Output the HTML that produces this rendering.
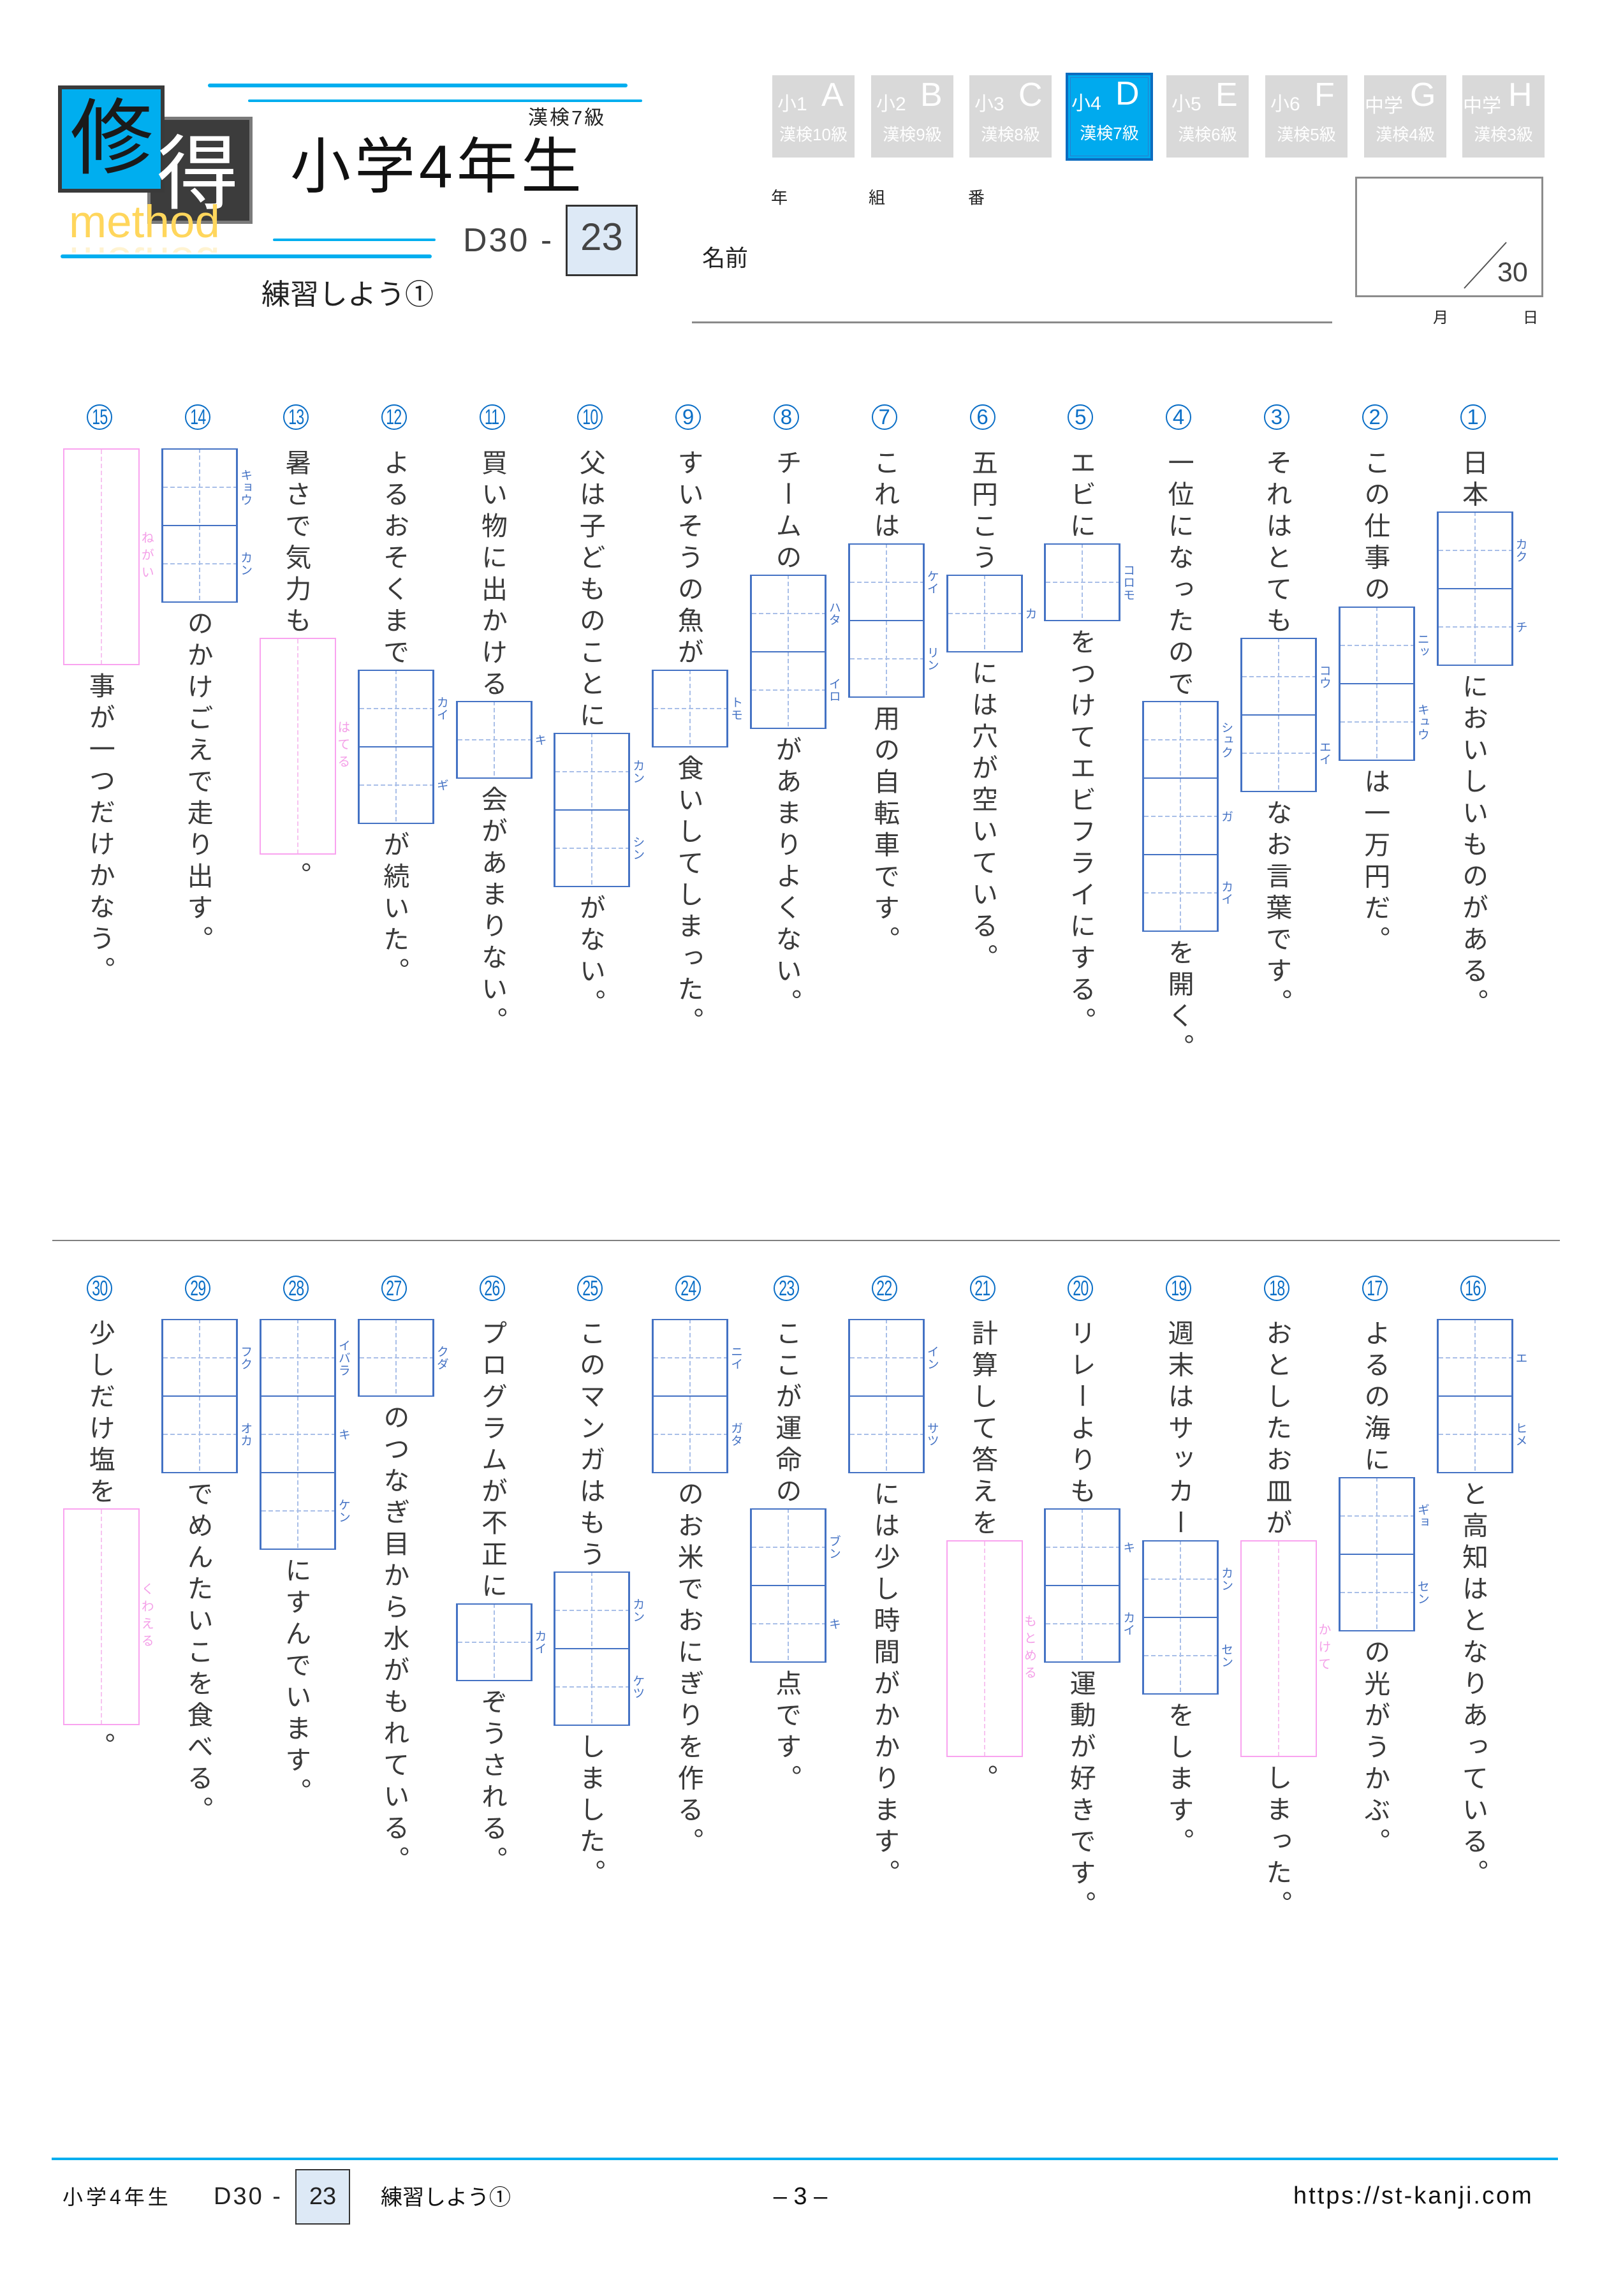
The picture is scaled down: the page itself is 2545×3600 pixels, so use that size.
<!DOCTYPE html>
<html lang="ja">
<head>
<meta charset="utf-8">
<style>
*{margin:0;padding:0;box-sizing:border-box}
html,body{width:2545px;height:3600px;background:#fff;overflow:hidden}
body{position:relative;font-family:"Liberation Sans","Noto Sans CJK JP",sans-serif;color:#222}
.a{position:absolute;line-height:1;white-space:nowrap}
.bl{position:absolute;background:#00aeef;border-radius:3px}
/* tabs */
.tab{position:absolute;top:118px;width:129px;height:129px;background:#d9d9d9;color:#fff}
.tab .s{position:absolute;left:8px;top:31px;font-size:30px;line-height:1;white-space:nowrap}
.tab .b{position:absolute;left:77px;top:5px;font-size:52px;line-height:1}
.tab .k{position:absolute;left:0;width:100%;text-align:center;top:80px;font-size:26px;line-height:1;letter-spacing:0px;white-space:nowrap}
.tab.on{left:1671px;top:114px;width:137px;height:138px;background:#00aaee;border:4px solid #0b6cc0;box-shadow:inset 0 0 0 3px #00aaee,inset 0 0 0 4px #2a7fcc}
/* columns */
.col{position:absolute;width:160px;display:flex;flex-direction:column;align-items:center}
.t{writing-mode:vertical-rl;font-size:41px;letter-spacing:8.5px;line-height:50px;position:relative;top:3px;color:#3a3a3a;white-space:nowrap;font-family:"Liberation Sans","Noto Sans CJK JP",sans-serif}
.bx{position:relative;left:3px;width:120px;border-left:3px solid #4472c4;border-right:3px solid #4472c4;border-bottom:2px solid #4472c4;margin:2px 0 8px;flex:none}
.bx::before{content:"";position:absolute;left:calc(50% - 1px);top:0;bottom:0;width:2px;background:repeating-linear-gradient(to bottom,#a9bfe8 0 7px,transparent 7px 11px)}
.sq{position:relative;height:120px;border-top:2px solid #4472c4}
.sq::after{content:"";position:absolute;left:0;right:0;top:calc(50% - 1px);height:2px;background:repeating-linear-gradient(to right,#a9bfe8 0 7px,transparent 7px 11px)}
.sq i,.pk i{position:absolute;top:50%;transform:translateY(-50%);writing-mode:vertical-rl;font-style:normal;white-space:nowrap}
.sq i{left:calc(100% + 4px);font-size:19px;line-height:20px;letter-spacing:0.5px;color:#4472c4}
.pk{position:relative;left:3px;width:120px;height:340px;border:2px solid #f9a3ef;margin:2px 0 8px;flex:none}
.pk::before{content:"";position:absolute;left:calc(50% - 1px);top:0;bottom:0;width:2px;background:repeating-linear-gradient(to bottom,#f7c3f0 0 7px,transparent 7px 11px)}
.pk i{left:calc(100% + 2px);font-size:20px;line-height:20px;letter-spacing:7px;color:#f4a0e8}
.cn{position:absolute;width:40px;height:40px;border:2px solid #0b6fc7;border-radius:50%;color:#0b6fc7;text-align:center;font-size:33px;line-height:36px;font-family:"Liberation Sans",sans-serif}
.cn span{display:inline-block}
.cn .d{transform:scaleX(0.7);letter-spacing:-1px}
</style>
</head>
<body>

<!-- ===== HEADER LEFT ===== -->
<div class="bl" style="left:326px;top:131px;width:658px;height:6px"></div>
<div class="bl" style="left:389px;top:156px;width:618px;height:4px"></div>
<div class="bl" style="left:428px;top:374px;width:255px;height:4px"></div>
<div class="bl" style="left:95px;top:399px;width:582px;height:6px"></div>

<!-- logo -->
<div style="position:absolute;left:231px;top:183px;width:165px;height:168px;background:#3c3c3c;border:5px solid #7a7a7a"></div>
<div style="position:absolute;left:91px;top:134px;width:167px;height:168px;background:#00aeef;border:6px solid #3a3a3a"></div>
<div class="a" style="left:100px;top:141px;width:150px;text-align:center;font-size:130px;color:#1a1a1a;font-family:'Noto Sans CJK JP',sans-serif">修</div>
<div class="a" style="left:235px;top:198px;width:150px;text-align:center;font-size:128px;color:#fff;font-family:'Noto Sans CJK JP',sans-serif">得</div>
<div class="a" style="left:108px;top:313px;font-size:71px;color:#ffd65c">method</div>
<div style="position:absolute;left:108px;top:374px;width:260px;height:22px;overflow:hidden;opacity:0.28">
  <div class="a" style="left:0;top:-47px;font-size:71px;color:#ffd65c;transform:scaleY(-1);transform-origin:50% 60px">method</div>
</div>

<div class="a" style="left:828px;top:169px;font-size:31px;letter-spacing:3px;color:#222">漢検7級</div>
<div class="a" style="left:455px;top:215px;font-size:95px;letter-spacing:6px;color:#111">小学4年生</div>
<div class="a" style="left:726px;top:351px;font-size:52px;letter-spacing:3px;color:#444">D30 -</div>
<div style="position:absolute;left:887px;top:321px;width:113px;height:112px;background:#dde9f6;border:3px solid #333"></div>
<div class="a" style="left:887px;top:342px;width:113px;text-align:center;font-size:60px;color:#444">23</div>
<div class="a" style="left:410px;top:439px;font-size:45px;color:#222">練習しよう①</div>

<!-- ===== HEADER RIGHT: tabs ===== -->
<div class="tab" style="left:1211px"><span class="s">小1</span><span class="b">A</span><span class="k">漢検10級</span></div>
<div class="tab" style="left:1366px"><span class="s">小2</span><span class="b">B</span><span class="k">漢検9級</span></div>
<div class="tab" style="left:1520px"><span class="s">小3</span><span class="b">C</span><span class="k">漢検8級</span></div>
<div class="tab on"><span class="s" style="left:5px;top:30px">小4</span><span class="b" style="left:74px;top:3px">D</span><span class="k" style="top:78px">漢検7級</span></div>
<div class="tab" style="left:1829px"><span class="s">小5</span><span class="b">E</span><span class="k">漢検6級</span></div>
<div class="tab" style="left:1984px"><span class="s">小6</span><span class="b">F</span><span class="k">漢検5級</span></div>
<div class="tab" style="left:2139px"><span class="s" style="left:1px;top:34px;font-size:30px">中学</span><span class="b" style="left:72px">G</span><span class="k">漢検4級</span></div>
<div class="tab" style="left:2293px"><span class="s" style="left:1px;top:34px;font-size:30px">中学</span><span class="b" style="left:72px">H</span><span class="k">漢検3級</span></div>

<div class="a" style="left:1209px;top:297px;font-size:26px">年</div>
<div class="a" style="left:1362px;top:297px;font-size:26px">組</div>
<div class="a" style="left:1518px;top:297px;font-size:26px">番</div>
<div class="a" style="left:1101px;top:387px;font-size:36px">名前</div>
<div style="position:absolute;left:1085px;top:504px;width:1004px;height:3px;background:#8a8a8a"></div>

<div style="position:absolute;left:2125px;top:277px;width:295px;height:189px;border:3px solid #8c8c8c"></div>
<svg style="position:absolute;left:0;top:0" width="2545" height="600"><line x1="2362" y1="380" x2="2296" y2="452" stroke="#555" stroke-width="2"/></svg>
<div class="a" style="left:2348px;top:406px;font-size:43px;color:#444">30</div>
<div class="a" style="left:2247px;top:487px;font-size:24px">月</div>
<div class="a" style="left:2388px;top:487px;font-size:24px">日</div>

<!-- ===== TOP HALF ===== -->
<div class="cn" style="left:2289.5px;top:634px"><span>1</span></div>
<div class="cn" style="left:2135.7px;top:634px"><span>2</span></div>
<div class="cn" style="left:1981.9px;top:634px"><span>3</span></div>
<div class="cn" style="left:1828.1px;top:634px"><span>4</span></div>
<div class="cn" style="left:1674.3px;top:634px"><span>5</span></div>
<div class="cn" style="left:1520.5px;top:634px"><span>6</span></div>
<div class="cn" style="left:1366.7px;top:634px"><span>7</span></div>
<div class="cn" style="left:1212.9px;top:634px"><span>8</span></div>
<div class="cn" style="left:1059.1px;top:634px"><span>9</span></div>
<div class="cn" style="left:905.3px;top:634px"><span class="d">10</span></div>
<div class="cn" style="left:751.5px;top:634px"><span class="d">11</span></div>
<div class="cn" style="left:597.7px;top:634px"><span class="d">12</span></div>
<div class="cn" style="left:443.9px;top:634px"><span class="d">13</span></div>
<div class="cn" style="left:290.1px;top:634px"><span class="d">14</span></div>
<div class="cn" style="left:136.3px;top:634px"><span class="d">15</span></div>

<div class="col" style="left:2229.5px;top:701px">
  <div class="t">日本</div>
  <div class="bx"><div class="sq"><i>カク</i></div><div class="sq"><i>チ</i></div></div>
  <div class="t">においしいものがある。</div>
</div>
<div class="col" style="left:2075.7px;top:701px">
  <div class="t">この仕事の</div>
  <div class="bx"><div class="sq"><i>ニッ</i></div><div class="sq"><i>キュウ</i></div></div>
  <div class="t">は一万円だ。</div>
</div>
<div class="col" style="left:1921.9px;top:701px">
  <div class="t">それはとても</div>
  <div class="bx"><div class="sq"><i>コウ</i></div><div class="sq"><i>エイ</i></div></div>
  <div class="t">なお言葉です。</div>
</div>
<div class="col" style="left:1768.1px;top:701px">
  <div class="t">一位になったので</div>
  <div class="bx"><div class="sq"><i>シュク</i></div><div class="sq"><i>ガ</i></div><div class="sq"><i>カイ</i></div></div>
  <div class="t">を開く。</div>
</div>
<div class="col" style="left:1614.3px;top:701px">
  <div class="t">エビに</div>
  <div class="bx"><div class="sq"><i>コロモ</i></div></div>
  <div class="t">をつけてエビフライにする。</div>
</div>
<div class="col" style="left:1460.5px;top:701px">
  <div class="t">五円こう</div>
  <div class="bx"><div class="sq"><i>カ</i></div></div>
  <div class="t">には穴が空いている。</div>
</div>
<div class="col" style="left:1306.7px;top:701px">
  <div class="t">これは</div>
  <div class="bx"><div class="sq"><i>ケイ</i></div><div class="sq"><i>リン</i></div></div>
  <div class="t">用の自転車です。</div>
</div>
<div class="col" style="left:1152.9px;top:701px">
  <div class="t">チームの</div>
  <div class="bx"><div class="sq"><i>ハタ</i></div><div class="sq"><i>イロ</i></div></div>
  <div class="t">があまりよくない。</div>
</div>
<div class="col" style="left:999.1px;top:701px">
  <div class="t">すいそうの魚が</div>
  <div class="bx"><div class="sq"><i>トモ</i></div></div>
  <div class="t">食いしてしまった。</div>
</div>
<div class="col" style="left:845.3px;top:701px">
  <div class="t">父は子どものことに</div>
  <div class="bx"><div class="sq"><i>カン</i></div><div class="sq"><i>シン</i></div></div>
  <div class="t">がない。</div>
</div>
<div class="col" style="left:691.5px;top:701px">
  <div class="t">買い物に出かける</div>
  <div class="bx"><div class="sq"><i>キ</i></div></div>
  <div class="t">会があまりない。</div>
</div>
<div class="col" style="left:537.7px;top:701px">
  <div class="t">よるおそくまで</div>
  <div class="bx"><div class="sq"><i>カイ</i></div><div class="sq"><i>ギ</i></div></div>
  <div class="t">が続いた。</div>
</div>
<div class="col" style="left:383.9px;top:701px">
  <div class="t">暑さで気力も</div>
  <div class="pk"><i>はてる</i></div>
  <div class="t">。</div>
</div>
<div class="col" style="left:230.1px;top:701px">
  <div class="bx"><div class="sq"><i>キョウ</i></div><div class="sq"><i>カン</i></div></div>
  <div class="t">のかけごえで走り出す。</div>
</div>
<div class="col" style="left:76.3px;top:701px">
  <div class="pk"><i>ねがい</i></div>
  <div class="t">事が一つだけかなう。</div>
</div>

<!-- divider -->
<div style="position:absolute;left:82px;top:1944px;width:2364px;height:2px;background:#808080"></div>

<!-- ===== BOTTOM HALF ===== -->
<div class="cn" style="left:2289.5px;top:2000px"><span class="d">16</span></div>
<div class="cn" style="left:2135.7px;top:2000px"><span class="d">17</span></div>
<div class="cn" style="left:1981.9px;top:2000px"><span class="d">18</span></div>
<div class="cn" style="left:1828.1px;top:2000px"><span class="d">19</span></div>
<div class="cn" style="left:1674.3px;top:2000px"><span class="d">20</span></div>
<div class="cn" style="left:1520.5px;top:2000px"><span class="d">21</span></div>
<div class="cn" style="left:1366.7px;top:2000px"><span class="d">22</span></div>
<div class="cn" style="left:1212.9px;top:2000px"><span class="d">23</span></div>
<div class="cn" style="left:1059.1px;top:2000px"><span class="d">24</span></div>
<div class="cn" style="left:905.3px;top:2000px"><span class="d">25</span></div>
<div class="cn" style="left:751.5px;top:2000px"><span class="d">26</span></div>
<div class="cn" style="left:597.7px;top:2000px"><span class="d">27</span></div>
<div class="cn" style="left:443.9px;top:2000px"><span class="d">28</span></div>
<div class="cn" style="left:290.1px;top:2000px"><span class="d">29</span></div>
<div class="cn" style="left:136.3px;top:2000px"><span class="d">30</span></div>

<div class="col" style="left:2229.5px;top:2066px">
  <div class="bx"><div class="sq"><i>エ</i></div><div class="sq"><i>ヒメ</i></div></div>
  <div class="t">と高知はとなりあっている。</div>
</div>
<div class="col" style="left:2075.7px;top:2066px">
  <div class="t">よるの海に</div>
  <div class="bx"><div class="sq"><i>ギョ</i></div><div class="sq"><i>セン</i></div></div>
  <div class="t">の光がうかぶ。</div>
</div>
<div class="col" style="left:1921.9px;top:2066px">
  <div class="t">おとしたお皿が</div>
  <div class="pk"><i>かけて</i></div>
  <div class="t">しまった。</div>
</div>
<div class="col" style="left:1768.1px;top:2066px">
  <div class="t">週末はサッカー</div>
  <div class="bx"><div class="sq"><i>カン</i></div><div class="sq"><i>セン</i></div></div>
  <div class="t">をします。</div>
</div>
<div class="col" style="left:1614.3px;top:2066px">
  <div class="t">リレーよりも</div>
  <div class="bx"><div class="sq"><i>キ</i></div><div class="sq"><i>カイ</i></div></div>
  <div class="t">運動が好きです。</div>
</div>
<div class="col" style="left:1460.5px;top:2066px">
  <div class="t">計算して答えを</div>
  <div class="pk"><i>もとめる</i></div>
  <div class="t">。</div>
</div>
<div class="col" style="left:1306.7px;top:2066px">
  <div class="bx"><div class="sq"><i>イン</i></div><div class="sq"><i>サツ</i></div></div>
  <div class="t">には少し時間がかかります。</div>
</div>
<div class="col" style="left:1152.9px;top:2066px">
  <div class="t">ここが運命の</div>
  <div class="bx"><div class="sq"><i>ブン</i></div><div class="sq"><i>キ</i></div></div>
  <div class="t">点です。</div>
</div>
<div class="col" style="left:999.1px;top:2066px">
  <div class="bx"><div class="sq"><i>ニイ</i></div><div class="sq"><i>ガタ</i></div></div>
  <div class="t">のお米でおにぎりを作る。</div>
</div>
<div class="col" style="left:845.3px;top:2066px">
  <div class="t">このマンガはもう</div>
  <div class="bx"><div class="sq"><i>カン</i></div><div class="sq"><i>ケツ</i></div></div>
  <div class="t">しました。</div>
</div>
<div class="col" style="left:691.5px;top:2066px">
  <div class="t">プログラムが不正に</div>
  <div class="bx"><div class="sq"><i>カイ</i></div></div>
  <div class="t">ぞうされる。</div>
</div>
<div class="col" style="left:537.7px;top:2066px">
  <div class="bx"><div class="sq"><i>クダ</i></div></div>
  <div class="t">のつなぎ目から水がもれている。</div>
</div>
<div class="col" style="left:383.9px;top:2066px">
  <div class="bx"><div class="sq"><i>イバラ</i></div><div class="sq"><i>キ</i></div><div class="sq"><i>ケン</i></div></div>
  <div class="t">にすんでいます。</div>
</div>
<div class="col" style="left:230.1px;top:2066px">
  <div class="bx"><div class="sq"><i>フク</i></div><div class="sq"><i>オカ</i></div></div>
  <div class="t">でめんたいこを食べる。</div>
</div>
<div class="col" style="left:76.3px;top:2066px">
  <div class="t">少しだけ塩を</div>
  <div class="pk"><i>くわえる</i></div>
  <div class="t">。</div>
</div>

<!-- ===== FOOTER ===== -->
<div style="position:absolute;left:81px;top:3383px;width:2362px;height:4px;background:#00aeef"></div>
<div class="a" style="left:98px;top:3429px;font-size:32px;letter-spacing:5px;color:#111">小学4年生</div>
<div class="a" style="left:335px;top:3425px;font-size:38px;letter-spacing:3px;color:#222">D30 -</div>
<div style="position:absolute;left:463px;top:3401px;width:86px;height:87px;background:#dde9f6;border:2.5px solid #333"></div>
<div class="a" style="left:463px;top:3425px;width:86px;text-align:center;font-size:38px;color:#222">23</div>
<div class="a" style="left:597px;top:3429px;font-size:34px;color:#111">練習しよう①</div>
<div class="a" style="left:1195px;top:3425px;width:120px;text-align:center;font-size:38px;color:#111">– 3 –</div>
<div class="a" style="left:2028px;top:3424px;font-size:38px;letter-spacing:3px;color:#111">https://st-kanji.com</div>

</body>
</html>
